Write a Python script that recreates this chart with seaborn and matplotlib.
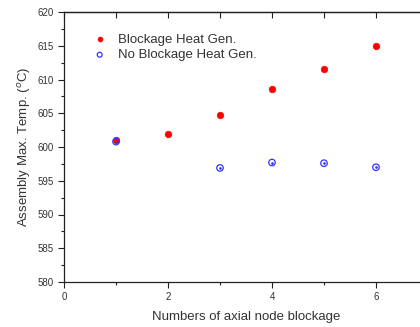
import matplotlib
matplotlib.use("Agg")
import matplotlib.pyplot as plt
import seaborn as sns
import pandas as pd
from matplotlib.ticker import MultipleLocator

sns.set_theme(style="ticks")
plt.rcParams['font.family'] = ['Liberation Sans', 'DejaVu Sans']

blocked_nodes = [1, 2, 3, 4, 5, 6]
blockage_temp = [601.0, 602.0, 604.8, 608.6, 611.5, 614.9]
no_block_nodes = [1, 3, 4, 5, 6]
no_block_temp = [600.8, 596.9, 597.7, 597.6, 597.0]

df1 = pd.DataFrame({"x": blocked_nodes, "y": blockage_temp})
df2 = pd.DataFrame({"x": no_block_nodes, "y": no_block_temp})

fig = plt.figure(figsize=(4.2, 3.27), dpi=100)
ax = fig.add_axes([64/420, 45/327, 364/420, 270/327])

sns.scatterplot(data=df1, x="x", y="y", ax=ax, marker="o", s=22, color="#ff0000",
                edgecolor="#ff0000", linewidth=0.5, label="Blockage Heat Gen.", zorder=3)
sns.scatterplot(data=df2, x="x", y="y", ax=ax, marker="o", s=22, facecolor="none",
                edgecolor="#3333ff", linewidth=0.9, label="No Blockage Heat Gen.", zorder=4)
ax.scatter(no_block_nodes, no_block_temp, s=0.8, color="#3333ff", zorder=5)

ax.set_xlim(0, 7)
ax.set_ylim(580, 620)
ax.xaxis.set_major_locator(MultipleLocator(2))
ax.xaxis.set_minor_locator(MultipleLocator(1))
ax.yaxis.set_major_locator(MultipleLocator(5))
ax.yaxis.set_minor_locator(MultipleLocator(2.5))
ax.tick_params(axis="both", which="major", labelsize=7, length=4, width=0.8,
               colors="#222222", labelcolor="#333333")
ax.tick_params(axis="both", which="minor", length=2.5, width=0.8, colors="#222222")
ax.tick_params(axis="x", which="minor", length=2)
for s in ax.spines.values():
    s.set_color("#222222")
    s.set_linewidth(0.9)

top = ax.secondary_xaxis("top")
top.xaxis.set_major_locator(MultipleLocator(1))
top.tick_params(axis="x", which="major", direction="in", length=4, width=0.8,
                colors="#222222", labeltop=False)
top.spines["top"].set_color("#222222")
top.spines["top"].set_linewidth(0.9)

ax.set_xlabel("Numbers of axial node blockage", fontsize=9.5, color="#333333", labelpad=6)
ax.set_ylabel("Assembly Max. Temp. ($^{o}$C)", fontsize=9.5, color="#333333", labelpad=3)

leg = ax.legend(loc="upper left", bbox_to_anchor=(0.04, 0.95), frameon=False, fontsize=9.5,
                handletextpad=0.4, labelspacing=0.25, borderaxespad=0.2, markerscale=0.75)
for t in leg.get_texts():
    t.set_color("#333333")

fig.savefig("out.png", dpi=100)
